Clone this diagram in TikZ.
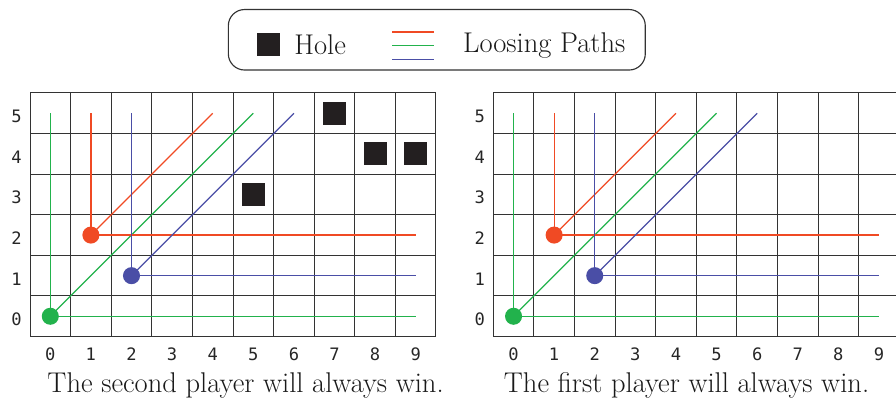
\documentclass[tikz,border=0pt]{standalone}
\usepackage{fontspec}
\setmonofont{DejaVu Sans Mono}
\usepackage{tikz}
\usetikzlibrary{positioning}
\definecolor{losered}{HTML}{F04A24}
\definecolor{losegreen}{HTML}{22B24C}
\definecolor{loseblue}{HTML}{4A4EA6}
\definecolor{holeblack}{HTML}{231F20}

\newcommand{\losingpaths}{%
	\foreach \c/\sx/\sy in {losegreen/0/0, losered/1/2, loseblue/2/1} {
		\node[start=\c] (dot\c) at (\sx+0.5,\sy+0.5) {};
		\coordinate (up\c) at (\sx+0.5,5.5);
		\coordinate (right\c) at (9.5,\sy+0.5);
		\coordinate (diag\c) at (\sx+5-\sy+0.5,5.5);
		\draw[lose=\c] (up\c) -- (dot\c.center) -- (right\c);
		\draw[lose=\c] (dot\c.center) -- (diag\c);
	}%
}

\begin{document}
\begin{tikzpicture}[
		cell/.style={draw=black!80, line width=0.7pt},
		hole/.style={fill=holeblack, minimum size=0.57cm, inner sep=0pt},
		start/.style={circle, fill=#1, minimum size=0.42cm, inner sep=0pt},
		lose/.style={draw=#1, line width=0.85pt},
		tick/.style={font=\fontsize{12}{14}\selectfont\ttfamily, text=black!85},
		words/.style={font=\fontsize{20}{24}\selectfont, text=black!90, inner sep=0pt},
	]
	\useasboundingbox (-0.739,-1.51) rectangle (21.33,8.29);
	\clip (-0.739,-1.51) rectangle (21.33,8.29);

	% legend
	\node[draw=black!80, line width=0.8pt, rounded corners=0.4cm,
	minimum width=10.27cm, minimum height=1.49cm] (legend) at (10.02,7.31) {};
	\node[hole] (holekey) at (5.87,7.20) {};
	\node[words, right=0.34cm of holekey] (holetext) {Hole};
	\coordinate (keyR) at (8.92,7.50);
	\coordinate (keyG) at (8.92,7.16);
	\coordinate (keyB) at (8.92,6.82);
	\draw[lose=losered] (keyR) -- ++(1.03,0);
	\draw[lose=losegreen] (keyG) -- ++(1.03,0) coordinate (keyGend);
	\draw[lose=loseblue] (keyB) -- ++(1.03,0);
	\node[words, right=0.71cm of keyGend] (pathtext) {Loosing Paths};

	% board with holes
	\begin{scope}[name prefix=L-]
		\draw[cell] (0,0) grid (10,6);
		\foreach \i in {0,...,9}
			\node[tick] (col\i) at (\i+0.5,-0.43) {\i};
		\foreach \j in {0,...,5}
			\node[tick] (row\j) at (-0.33,\j+0.42) {\j};
		\foreach \x/\y in {7/5,8/4,9/4,5/3}
			\node[hole] (hole\x\y) at (\x+0.5,\y+0.5) {};
		\losingpaths
	\end{scope}

	% empty board
	\begin{scope}[xshift=11.41cm, name prefix=R-]
		\draw[cell] (0,0) grid (10,6);
		\foreach \i in {0,...,9}
			\node[tick] (col\i) at (\i+0.5,-0.43) {\i};
		\foreach \j in {0,...,5}
			\node[tick] (row\j) at (-0.33,\j+0.42) {\j};
		\losingpaths
	\end{scope}

	\node[words, anchor=base] (captionL) at (5.31,-1.37) {The second player will always win.};
	\node[words, anchor=base] (captionR) at (16.17,-1.37) {The first player will always win.};
\end{tikzpicture}
\end{document}
